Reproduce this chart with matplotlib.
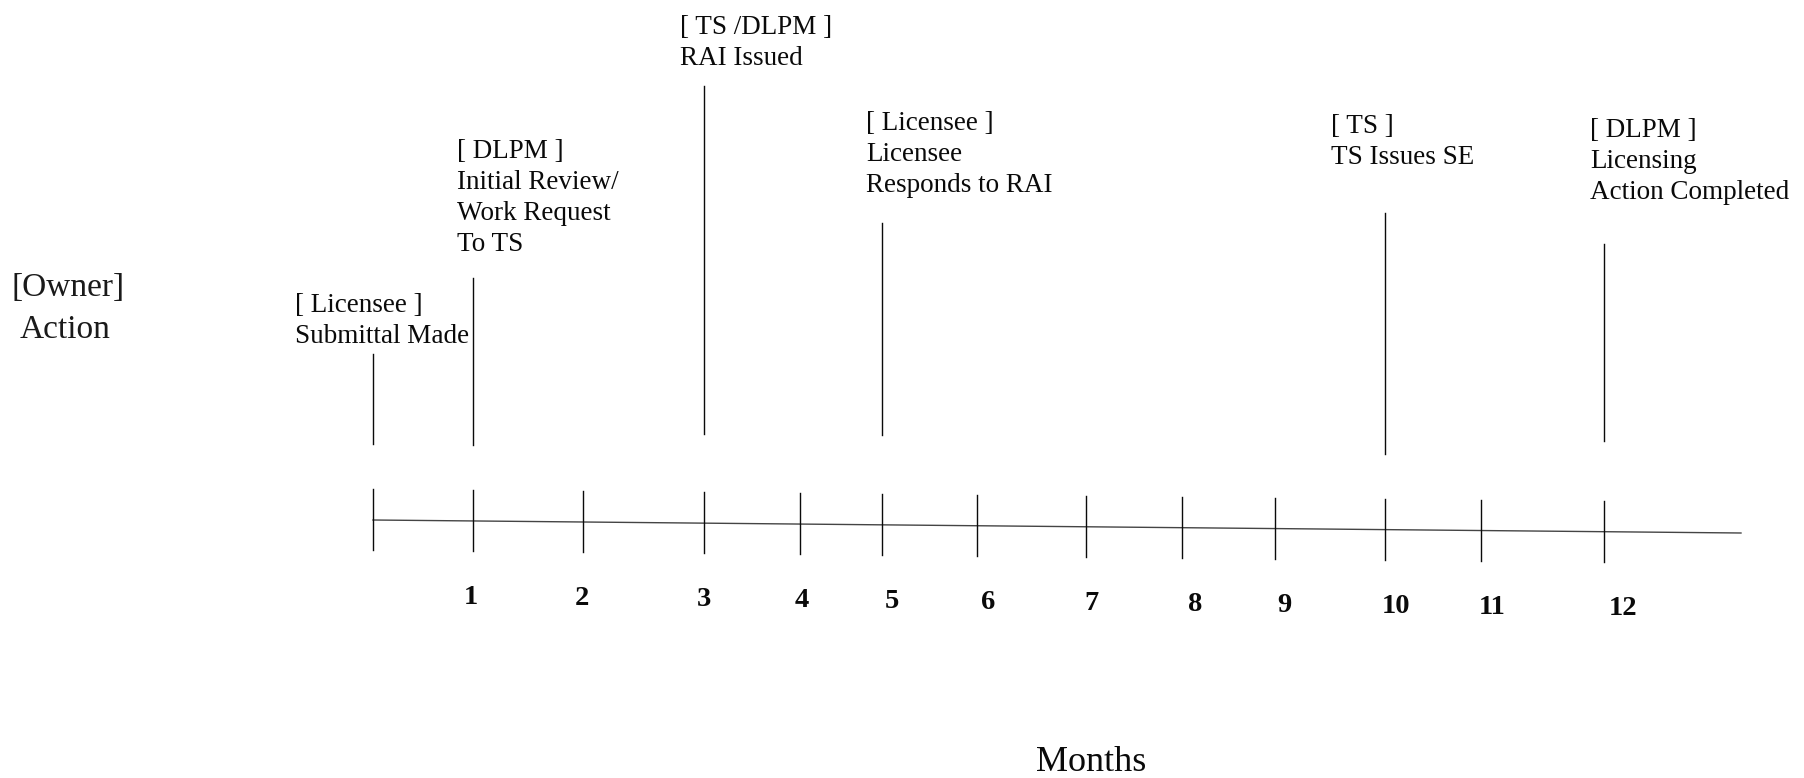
import matplotlib
matplotlib.use("Agg")
import matplotlib.pyplot as plt

# ---- data ----
months = [1, 2, 3, 4, 5, 6, 7, 8, 9, 10, 11, 12]
# measured positions of month ticks along the timeline (start tick at index 0)
tick_x = [373, 473, 583, 704, 800, 882, 977, 1086, 1182, 1275, 1385, 1481, 1604]
label_x = [471, 582, 704, 802, 892, 988, 1091, 1195, 1284, 1396, 1492, 1623]
axis_end = 1741

event_owner = ["Licensee", "DLPM", "TS /DLPM", "Licensee", "TS", "DLPM"]
event_text = [
    ["Submittal Made"],
    ["Initial Review/", "Work Request", "To TS"],
    ["RAI Issued"],
    ["Licensee", "Responds to RAI"],
    ["TS Issues SE"],
    ["Licensing", "Action Completed"],
]
event_month = [0, 1, 3, 5, 10, 12]
event_line_top = [354, 278, 86, 223, 213, 244]
event_line_bottom = [444, 445, 434, 435, 454, 441]
text_x = [295, 457, 680, 866, 1331, 1590]
text_y0 = [312, 158, 34, 130, 133, 137]

# ---- figure ----
W, H = 1804, 778
fig = plt.figure(figsize=(W / 100, H / 100), dpi=100)
ax = fig.add_axes([0, 0, 1, 1])
ax.set_xlim(0, W)
ax.set_ylim(H, 0)
ax.axis("off")

FONT = "Liberation Serif"
ink = "#0a0a0a"

def base_y(x):
    # timeline is drawn with a very slight slope in the original
    return 520 + (533 - 520) * (x - tick_x[0]) / (axis_end - tick_x[0])

# baseline
ax.plot([tick_x[0], axis_end], [base_y(tick_x[0]), base_y(axis_end)],
        color="#444444", lw=1.0)
# ticks
for x in tick_x:
    y = base_y(x)
    ax.plot([x, x], [y - 31, y + 30], color=ink, lw=1.0)
# tick labels
for m, lx in zip(months, label_x):
    ax.text(lx, base_y(lx) + 83, str(m), ha="center", va="baseline",
            fontsize=20.5, family=FONT, fontweight="bold", color=ink)

# events
step = 31
for i in range(len(event_owner)):
    x = tick_x[event_month[i]]
    ax.plot([x, x], [event_line_top[i], event_line_bottom[i]], color=ink, lw=1.0)
    lines = [f"[ {event_owner[i]} ]"] + event_text[i]
    for j, s in enumerate(lines):
        ax.text(text_x[i], text_y0[i] + j * step, s, ha="left", va="baseline",
                fontsize=19.5, family=FONT, color=ink)

# side label
ax.text(11, 296, "[Owner]", ha="left", va="baseline", fontsize=24,
        family=FONT, color="#1a1a1a")
ax.text(20, 338, "Action", ha="left", va="baseline", fontsize=24,
        family=FONT, color="#1a1a1a")

# axis title
ax.text(1091, 771, "Months", ha="center", va="baseline", fontsize=26,
        family=FONT, color=ink)

fig.savefig("out.png", dpi=100, facecolor="white")
